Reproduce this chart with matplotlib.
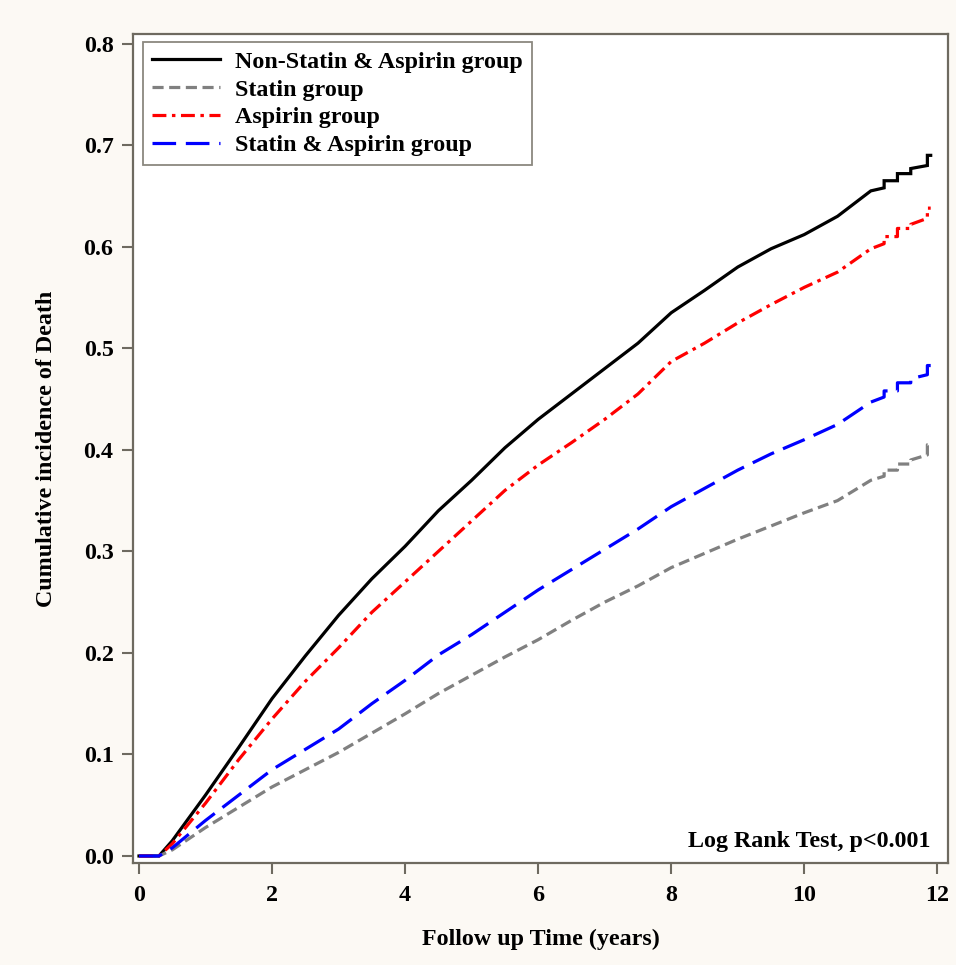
import numpy as np
import matplotlib
matplotlib.use('Agg')
import matplotlib.pyplot as plt

plt.rcParams['font.family'] = ['Liberation Serif', 'DejaVu Serif']
plt.rcParams['font.weight'] = 'bold'
plt.rcParams['lines.scale_dashes'] = False

# follow-up time (years) and cumulative incidence
t_main = [0, 0.3, 0.5, 1.0, 1.5, 2.0, 2.5, 3.0, 3.5, 4.0, 4.5, 5.0, 5.5, 6.0,
          6.5, 7.0, 7.5, 8.0, 8.5, 9.0, 9.5, 10.0, 10.5, 11.0]
t_tail = [11.2, 11.2, 11.4, 11.4, 11.6, 11.6, 11.85, 11.85, 11.9]

non_statin_aspirin = [0, 0, 0.015, 0.060, 0.107, 0.155, 0.197, 0.237, 0.273, 0.305,
                      0.340, 0.370, 0.402, 0.430, 0.455, 0.480, 0.505, 0.535, 0.557,
                      0.580, 0.598, 0.612, 0.630, 0.655,
                      0.658, 0.665, 0.665, 0.672, 0.672, 0.677, 0.680, 0.690, 0.690]
statin = [0, 0, 0.006, 0.028, 0.048, 0.068, 0.085, 0.102, 0.121, 0.140,
          0.160, 0.178, 0.196, 0.213, 0.232, 0.250, 0.266, 0.284, 0.298,
          0.312, 0.325, 0.338, 0.350, 0.370,
          0.374, 0.380, 0.380, 0.386, 0.386, 0.390, 0.395, 0.405, 0.405]
aspirin = [0, 0, 0.012, 0.052, 0.095, 0.135, 0.172, 0.205, 0.240, 0.270,
           0.300, 0.330, 0.360, 0.385, 0.407, 0.430, 0.455, 0.487, 0.505,
           0.525, 0.543, 0.560, 0.575, 0.598,
           0.603, 0.610, 0.610, 0.618, 0.618, 0.622, 0.628, 0.638, 0.638]
statin_aspirin = [0, 0, 0.008, 0.035, 0.060, 0.085, 0.105, 0.125, 0.150, 0.173,
                  0.198, 0.218, 0.240, 0.262, 0.282, 0.302, 0.322, 0.344, 0.362,
                  0.380, 0.396, 0.410, 0.425, 0.447,
                  0.452, 0.458, 0.458, 0.466, 0.466, 0.470, 0.474, 0.483, 0.483]

labels = ['Non-Statin & Aspirin group', 'Statin group', 'Aspirin group',
          'Statin & Aspirin group']

t = t_main + t_tail
series = [non_statin_aspirin, statin, aspirin, statin_aspirin]
colors = ['black', '#808080', '#ff0000', '#0000ff']
dashes = [None, (8, 4), (10, 4, 2.5, 4), (17, 7)]

frame = '#6e6a60'
fs = 17.3
fig = plt.figure(figsize=(9.56, 9.65), dpi=100, facecolor='#fcf9f4')
ax = fig.add_axes([133 / 956, 1 - 863 / 965, 815 / 956, 829 / 965])
ax.set_facecolor('white')

for y, c, d, lab in zip(series, colors, dashes, labels):
    line, = ax.plot(t, y, color=c, lw=2.3, label=lab, solid_joinstyle='miter')
    if d is not None:
        line.set_dashes(d)

ax.set_xlim(-0.09, 12.16)
ax.set_ylim(-0.0069, 0.8095)
ax.set_xticks(np.arange(0, 13, 2))
ax.set_yticks(np.arange(0, 0.81, 0.1))
ax.yaxis.set_major_formatter(matplotlib.ticker.FormatStrFormatter('%.1f'))

for s in ax.spines.values():
    s.set_color(frame)
    s.set_linewidth(1.6)
ax.tick_params(direction='out', length=8, width=1.5, color=frame,
               labelsize=fs, labelcolor='black')
ax.tick_params(axis='y', pad=6)
ax.tick_params(axis='x', pad=8)

ax.set_xlabel('Follow up Time (years)', fontsize=fs, fontweight='bold', labelpad=16)
ax.set_ylabel('Cumulative incidence of Death', fontsize=fs, fontweight='bold', labelpad=19)

ax.text(0.978, 0.0193, 'Log Rank Test, p<0.001', transform=ax.transAxes,
        ha='right', va='baseline', fontsize=fs, fontweight='bold')

leg = ax.legend(loc='upper left', bbox_to_anchor=(143 / 956, 1 - 42 / 965),
                bbox_transform=fig.transFigure, borderaxespad=0, fontsize=fs,
                frameon=True, fancybox=False, handlelength=2.85, handletextpad=0.62,
                labelspacing=0.25, borderpad=0.37)
leg.get_frame().set_edgecolor(frame)
leg.get_frame().set_linewidth(1.3)
for txt in leg.get_texts():
    txt.set_fontweight('bold')

fig.savefig('out.png', dpi=100, facecolor=fig.get_facecolor())
